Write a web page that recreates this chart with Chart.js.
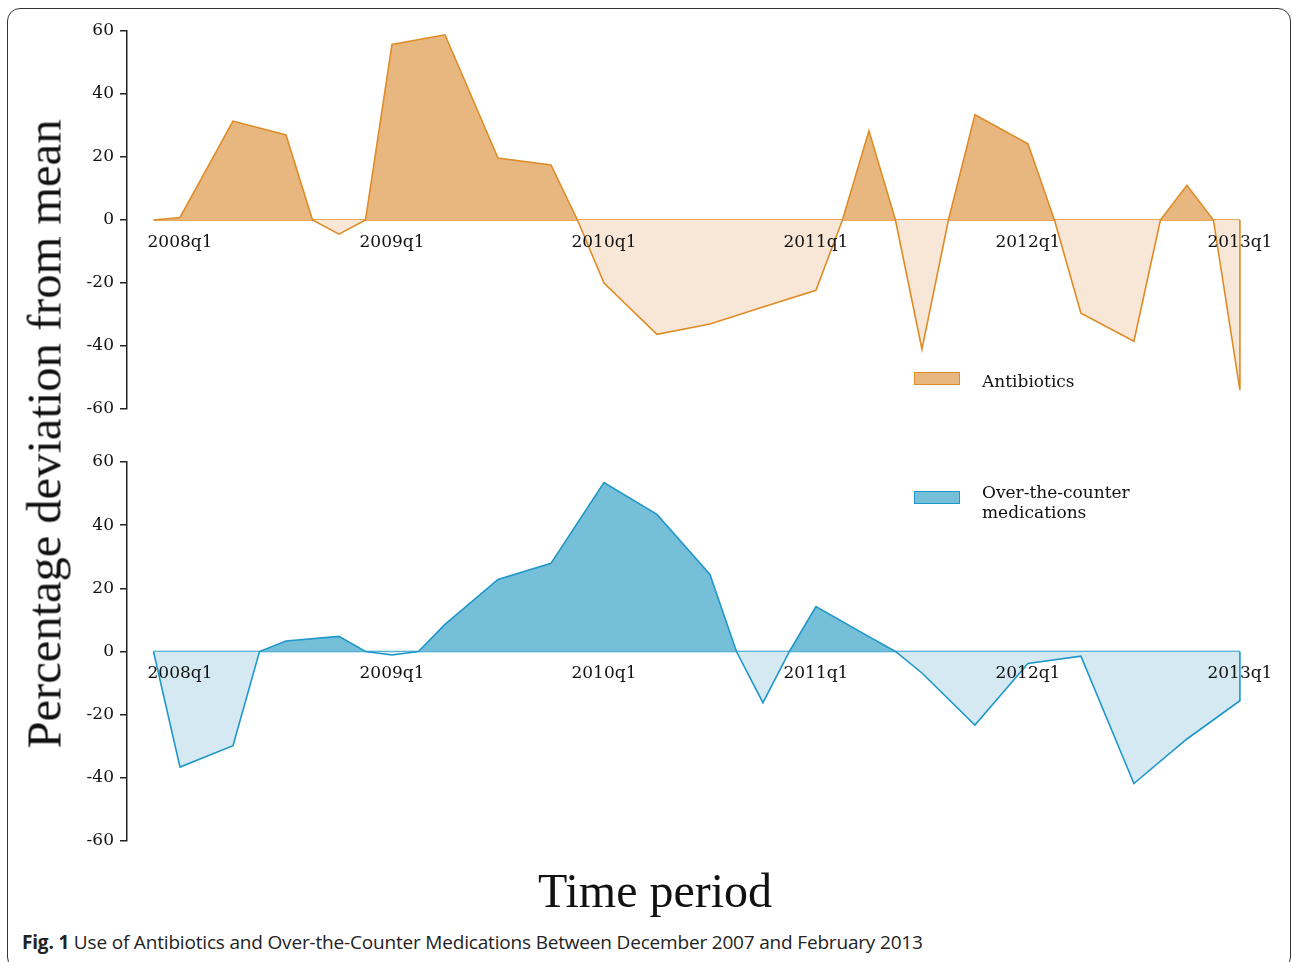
<!DOCTYPE html>
<html>
<head>
<meta charset="utf-8">
<script src="https://cdn.jsdelivr.net/npm/chart.js@4/dist/chart.umd.min.js"></script>
<style>
  body { margin: 0; background: #fff; width: 1292px; height: 962px; overflow: hidden; position: relative; }
  .frame { position: absolute; left: 7px; top: 8px; width: 1284px; height: 962px; border: 1.5px solid #333; border-radius: 13px; box-sizing: border-box; }
  canvas { position: absolute; left: 0; }
  #topChart { top: 0; }
  #bottomChart { top: 430px; }
  .ytitle { position: absolute; left: 44px; top: 434px; transform: translate(-50%, -50%) rotate(-90deg); font-family: "Liberation Serif", serif; font-size: 48.5px; color: #111; white-space: nowrap; }
  .xtitle { position: absolute; left: 655px; top: 890px; transform: translate(-50%, -50%); font-family: "Liberation Serif", serif; font-size: 48px; color: #111; white-space: nowrap; }
  .caption { position: absolute; left: 22px; top: 929px; font-family: "Open Sans", sans-serif; font-size: 19px; color: #222; white-space: nowrap; letter-spacing: -0.18px; }
  .caption b { font-weight: 700; }
  .legend { position: absolute; left: 914px; font-family: "DejaVu Serif", serif; font-size: 17px; color: #111; line-height: 20px; }
  .legend .sw { position: absolute; left: 0; width: 44px; height: 11px; border: 1.5px solid; }
  .legend .lbl { position: absolute; left: 68px; white-space: nowrap; }
</style>
</head>
<body>
<div class="frame"></div>
<canvas id="topChart" width="1292" height="430"></canvas>
<canvas id="bottomChart" width="1292" height="440"></canvas>
<div class="ytitle">Percentage deviation from mean</div>
<div class="xtitle">Time period</div>
<div class="legend" style="top:372px">
  <div class="sw" style="background:#E7B77F;border-color:#DF8C27"></div>
  <div class="lbl" style="top:-1px">Antibiotics</div>
</div>
<div class="legend" style="top:491px">
  <div class="sw" style="background:#76BFD9;border-color:#1F97CA"></div>
  <div class="lbl" style="top:-9px">Over-the-counter<br>medications</div>
</div>
<div class="caption"><b>Fig. 1</b> Use of Antibiotics and Over-the-Counter Medications Between December 2007 and February 2013</div>
<script>
// quarter index: 0 = 2008q1, 4 = 2009q1, ...
const xTickValues = [0, 4, 8, 12, 16, 20];
const xTickLabels = ['2008q1', '2009q1', '2010q1', '2011q1', '2012q1', '2013q1'];
const yTickValues = [-60, -40, -20, 0, 20, 40, 60];

const abQ = [-0.5, 0, 1, 2, 2.5, 3, 3.5, 4, 5, 6, 7, 7.5, 8, 9, 10, 11, 12, 12.5, 13, 13.5, 14, 14.5, 15, 16, 16.5, 17, 18, 18.5, 19, 19.5, 20, 20];
const abVals = [0, 0.8, 31.4, 27, 0, -4.5, 0, 55.7, 58.8, 19.7, 17.5, 0, -20, -36.3, -33, -27.6, -22.3, 0, 28.3, 0, -41, 0, 33.4, 24.2, 0, -29.6, -38.5, 0, 11, 0, -54, 0];

const otcQ = [-0.5, 0, 1, 1.5, 2, 3, 3.5, 4, 4.5, 5, 6, 7, 8, 9, 10, 10.5, 11, 11.5, 12, 13, 13.5, 14, 15, 16, 17, 18, 19, 20, 20];
const otcVals = [0, -36.6, -29.8, 0, 3.3, 4.8, 0, -1.1, 0, 8.6, 22.8, 27.9, 53.5, 43.4, 24.4, 0, -16.2, 0, 14.2, 4.7, 0, -6.8, -23.3, -3.8, -1.5, -41.8, -27.7, -15.6, 0];

const baseQ = [-0.5, 20];

function toPoints(xs, ys) {
  return xs.map((x, i) => ({ x: x, y: ys[i] }));
}

function makeChart(canvasId, xs, ys, colors, padding) {
  return new Chart(document.getElementById(canvasId), {
    type: 'line',
    data: {
      datasets: [
        {
          data: toPoints(xs, ys),
          borderColor: colors.line,
          borderWidth: 1.6,
          pointRadius: 0,
          tension: 0,
          fill: { target: 'origin', above: colors.dark, below: colors.light },
        },
        {
          data: toPoints(baseQ, [0, 0]),
          borderColor: colors.line,
          borderWidth: 1.6,
          pointRadius: 0,
          fill: false,
        },
      ],
    },
    options: {
      responsive: false,
      animation: false,
      layout: { padding: padding },
      plugins: { legend: { display: false }, tooltip: { enabled: false } },
      scales: {
        x: {
          type: 'linear',
          min: -1,
          max: 20.53,
          position: { y: 0 },
          grid: { display: false, drawTicks: false },
          border: { display: false },
          afterBuildTicks: (scale) => {
            scale.ticks = xTickValues.map((v) => ({ value: v }));
          },
          ticks: {
            z: 1, // labels sit on top of the filled areas
            padding: 12,
            maxRotation: 0,
            autoSkip: false,
            color: '#111',
            font: { family: 'DejaVu Serif', size: 17 },
            callback: (v) => xTickLabels[xTickValues.indexOf(v)],
          },
        },
        y: {
          min: -60,
          max: 60,
          afterFit: (scale) => { scale.width = 127; },
          afterBuildTicks: (scale) => {
            scale.ticks = yTickValues.map((v) => ({ value: v }));
          },
          grid: { drawOnChartArea: false, drawTicks: true, tickLength: 7, color: '#222', lineWidth: 1.5 },
          border: { display: true, color: '#222', width: 1.5 },
          ticks: {
            padding: 6,
            color: '#111',
            font: { family: 'DejaVu Serif', size: 17 },
          },
        },
      },
    },
  });
}

makeChart('topChart', abQ, abVals,
  { line: '#DF8C27', dark: '#E7B77F', light: '#F8E7D6' },
  { top: 31, bottom: 21, left: 0, right: 24 });

makeChart('bottomChart', otcQ, otcVals,
  { line: '#1F97CA', dark: '#76BFD9', light: '#D4E9F2' },
  { top: 32, bottom: 29, left: 0, right: 24 });
</script>
</body>
</html>
